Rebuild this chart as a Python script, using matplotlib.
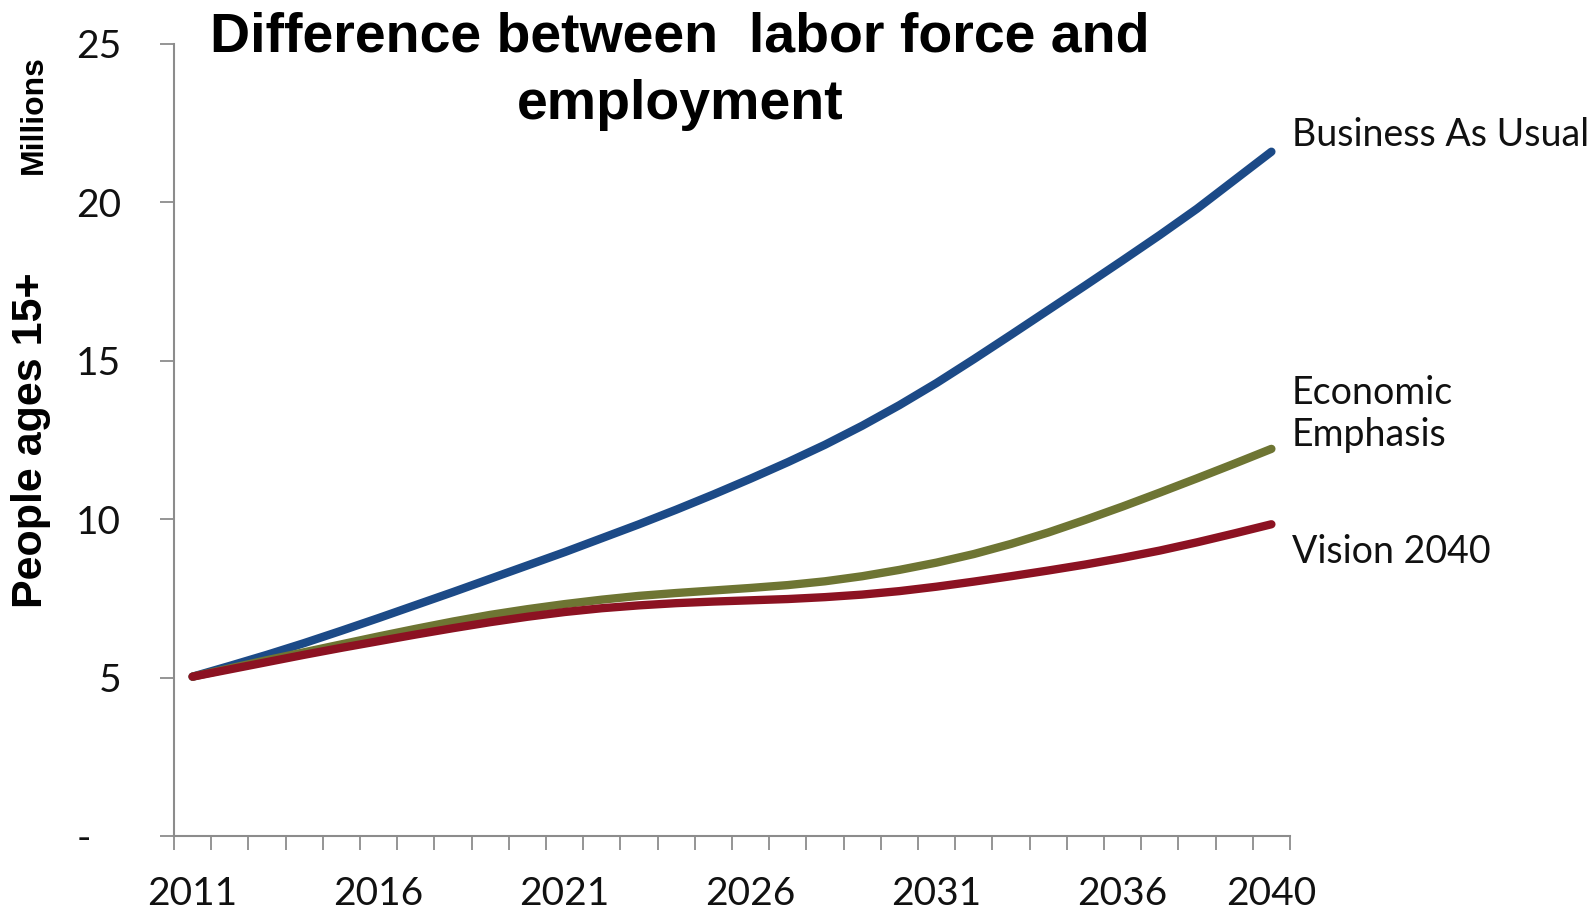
import numpy as np
import matplotlib
matplotlib.use("Agg")
import matplotlib.pyplot as plt

years = list(range(2011, 2041))
shown_years = [2011, 2016, 2021, 2026, 2031, 2036, 2040]

# millions of people 15+, labor force minus employment
business_as_usual = [5.03, 5.37, 5.72, 6.09, 6.48, 6.88, 7.29, 7.70, 8.12, 8.54,
                     8.96, 9.40, 9.84, 10.30, 10.78, 11.28, 11.80, 12.35, 12.95, 13.60,
                     14.30, 15.05, 15.82, 16.60, 17.38, 18.17, 18.97, 19.80, 20.70, 21.60]
economic_emphasis = [5.03, 5.29, 5.55, 5.80, 6.05, 6.30, 6.54, 6.77, 6.98, 7.16,
                     7.32, 7.46, 7.58, 7.67, 7.75, 7.83, 7.92, 8.04, 8.20, 8.40,
                     8.63, 8.90, 9.22, 9.58, 9.98, 10.40, 10.84, 11.29, 11.75, 12.22]
vision_2040 = [5.03, 5.26, 5.49, 5.72, 5.94, 6.15, 6.36, 6.56, 6.75, 6.92,
               7.07, 7.19, 7.28, 7.35, 7.40, 7.44, 7.48, 7.54, 7.62, 7.73,
               7.87, 8.03, 8.20, 8.38, 8.57, 8.78, 9.01, 9.27, 9.55, 9.84]

y_ticks = [0, 5, 10, 15, 20, 25]
y_tick_labels = ["-   ", "5", "10", "15", "20", "25"]

series = [
    ("Business As Usual", business_as_usual, "#1c4a87"),
    ("Economic\nEmphasis", economic_emphasis, "#6e7533"),
    ("Vision 2040", vision_2040, "#8c1222"),
]
label_y = [135, 414, 552]   # pixel rows of the end labels

W, H = 1595, 910
fig = plt.figure(figsize=(W / 100, H / 100), dpi=100)
ax = fig.add_axes([174 / W, 1 - 836 / H, (1290 - 174) / W, (836 - 44) / H])

x = np.arange(len(years))
for name, vals, col in series:
    ax.plot(x, vals, color=col, lw=6.0, solid_capstyle="round", solid_joinstyle="round",
            clip_on=False, zorder=3)

for (name, vals, col), ly in zip(series, label_y):
    fig.text(1292 / W, 1 - ly / H, name, ha="left", va="center", fontsize=27,
             family="Lato", linespacing=1.2, color="#111111")

ax.set_xlim(-0.5, len(years) - 0.5)
ax.set_ylim(0, 25)

grey = "#8c8c8c"
for side in ["top", "right"]:
    ax.spines[side].set_visible(False)
for side in ["left", "bottom"]:
    ax.spines[side].set_color(grey)
    ax.spines[side].set_linewidth(1.5)

# category boundaries get the tick marks, labels sit on the category centres
ax.set_xticks(np.arange(-0.5, len(years)), labels=[""] * (len(years) + 1))
ax.tick_params(axis="x", which="major", direction="out", length=10, width=1.3, color=grey)
ax.set_xticks([years.index(y) for y in shown_years], labels=[str(y) for y in shown_years],
              minor=True)
ax.tick_params(axis="x", which="minor", length=0, pad=29, labelsize=28)

ax.set_yticks(y_ticks, labels=y_tick_labels)
ax.tick_params(axis="y", direction="out", length=10, width=1.3, color=grey, pad=28, labelsize=28)

for lab in ax.get_xticklabels(minor=True) + ax.get_yticklabels():
    lab.set_family("Lato")
    lab.set_color("#111111")

fig.text(680 / W, 1 - 71 / H, "Difference between  labor force and\nemployment", ha="center",
         va="center", fontsize=40, fontweight="bold", family="Liberation Sans", linespacing=1.4)
fig.text(31 / W, 1 - 440 / H, "People ages 15+", rotation=90, ha="center", va="center",
         fontsize=31, fontweight="bold", family="Liberation Sans")
fig.text(34 / W, 1 - 115 / H, "Millions", rotation=90, ha="center", va="center",
         fontsize=23, fontweight="bold", family="Liberation Sans")

fig.savefig("out.png", dpi=100)
